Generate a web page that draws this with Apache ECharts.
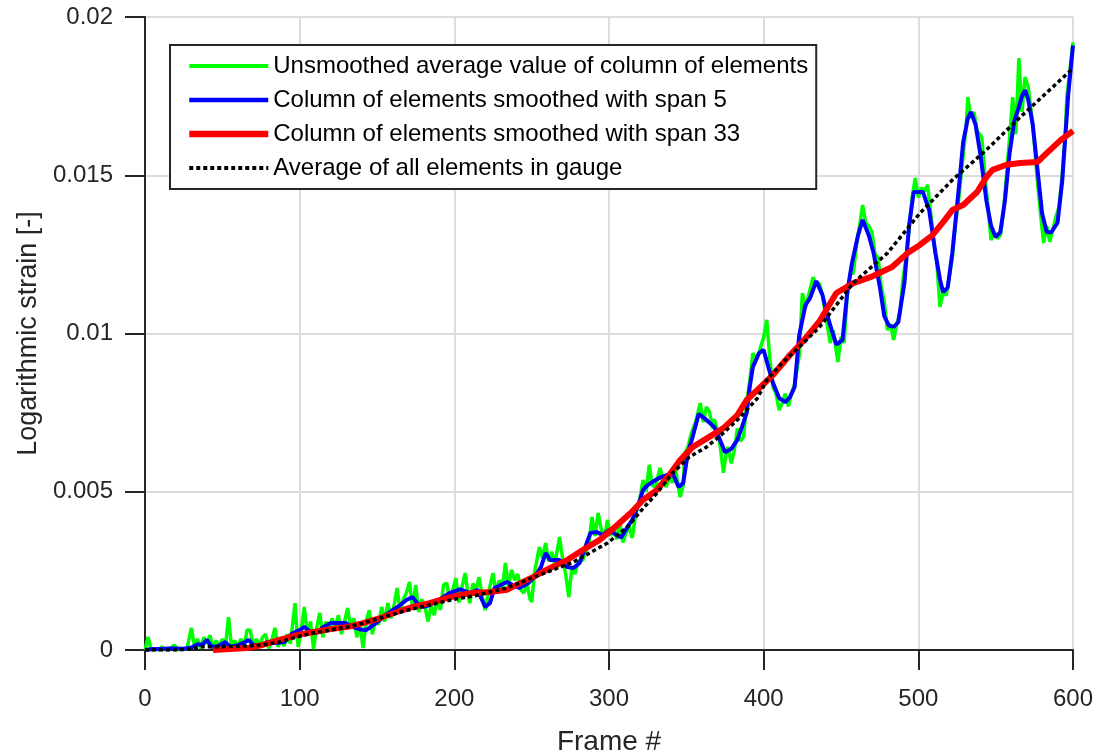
<!DOCTYPE html>
<html>
<head>
<meta charset="utf-8">
<script src="https://cdn.jsdelivr.net/npm/echarts@6/dist/echarts.min.js"></script>
<style>
html,body{margin:0;padding:0;background:#fff;}
#chart{width:1100px;height:755px;}
</style>
</head>
<body>
<div id="chart"></div>
<script>
const seriesNames = [
  'Unsmoothed average value of column of elements',
  'Column of elements smoothed with span 5',
  'Column of elements smoothed with span 33',
  'Average of all elements in gauge'
];
const xTicks = [0, 100, 200, 300, 400, 500, 600];
const yTicks = [0, 0.005, 0.01, 0.015, 0.02];

// [frame, strain]
const unsmoothed = [
[0,0],[2,0.00041],[4,0],[7,0.00002],[9,0],[11,0.0001],[13,0],[16,0.00003],[19,0.00016],[21,0],
[24,0.00004],[27,0.00002],[30,0.0007],[32,0.00012],[34,0.00035],[36,0.00005],[38,0.0004],[40,0.0002],[42,0.00047],[44,0.00006],
[46,0.0003],[48,0.0001],[50,0.00035],[52,0.00012],[54,0.00104],[56,0.00005],[58,0.0003],[60,0.00008],[62,0.00035],[64,0.0001],
[66,0.00063],[68,0.00063],[70,0.0001],[72,0.00035],[74,0.00015],[76,0.0004],[78,0.0005],[80,0.00005],[82,0.0003],[84,0.0007],
[86,0.0001],[88,0.0004],[90,0.00012],[92,0.0005],[94,0.0002],[97,0.00148],[99,0.0001],[101,0.0006],[103,0.00136],[105,0.0005],
[107,0.0009],[109,0.00003],[111,0.0007],[113,0.00117],[115,0.0004],[117,0.0009],[119,0.0006],[121,0.001],[123,0.0007],[125,0.0011],
[127,0.0005],[129,0.0009],[131,0.00133],[133,0.0007],[135,0.001],[137,0.0004],[139,0.0008],[141,0.00006],[143,0.0009],[145,0.00126],
[147,0.0005],[149,0.001],[151,0.0008],[153,0.00136],[155,0.0009],[157,0.00148],[159,0.001],[161,0.0014],[163,0.00196],[165,0.0012],
[167,0.0016],[169,0.0018],[171,0.00215],[173,0.0013],[175,0.00205],[177,0.0012],[179,0.0016],[181,0.00136],[183,0.0009],[185,0.0014],
[187,0.0011],[189,0.0016],[191,0.00126],[193,0.00205],[195,0.00212],[197,0.0016],[199,0.0019],[201,0.00227],[203,0.0015],[205,0.002],
[207,0.00243],[209,0.0017],[210,0.00148],[212,0.0021],[214,0.0019],[216,0.0023],[218,0.0017],[220,0.00126],[222,0.0018],[225,0.00243],
[227,0.0018],[229,0.0022],[231,0.0019],[233,0.00275],[235,0.002],[237,0.00253],[239,0.0022],[241,0.0024],[243,0.0019],[245,0.0018],
[247,0.0021],[249,0.0016],[250,0.00152],[252,0.0025],[255,0.00325],[257,0.0029],[259,0.00338],[261,0.0028],[263,0.0031],[265,0.0027],
[268,0.00357],[270,0.0029],[272,0.0024],[274,0.00167],[276,0.0026],[278,0.0024],[280,0.0028],[283,0.00284],[285,0.0031],[287,0.00338],
[289,0.0042],[291,0.0036],[293,0.00433],[295,0.0038],[296,0.00354],[298,0.0038],[299,0.00411],[301,0.0036],[303,0.0039],[305,0.0035],
[307,0.00401],[309,0.0034],[311,0.0037],[313,0.0039],[315,0.00354],[317,0.0042],[318,0.00442],[320,0.0048],[322,0.00537],[324,0.005],
[326,0.00585],[328,0.0052],[330,0.00515],[333,0.00575],[335,0.0054],[337,0.00515],[339,0.0055],[341,0.00528],[343,0.0057],[346,0.00483],
[348,0.0052],[349,0.00622],[351,0.0064],[353,0.0068],[354,0.00695],[356,0.0072],[359,0.0078],[361,0.0072],[363,0.00768],[365,0.00752],
[367,0.007],[368,0.0073],[370,0.00695],[372,0.0064],[374,0.0056],[376,0.0063],[377,0.00641],[379,0.0059],[381,0.0063],[383,0.007],
[385,0.0066],[387,0.00673],[389,0.0078],[391,0.0085],[393,0.00938],[395,0.0092],[397,0.0094],[400,0.00989],[402,0.01043],[404,0.0092],
[406,0.00831],[408,0.0081],[410,0.00758],[412,0.0078],[414,0.0081],[416,0.0077],[418,0.0081],[420,0.0084],[423,0.0093],[425,0.01128],
[427,0.0108],[429,0.0112],[432,0.01178],[434,0.0115],[436,0.0116],[438,0.0112],[440,0.0106],[443,0.0097],[445,0.0101],[448,0.0091],
[450,0.0099],[452,0.0097],[454,0.0112],[456,0.0119],[458,0.0119],[460,0.0128],[462,0.0134],[464,0.01406],[466,0.0135],[468,0.0134],
[470,0.0132],[472,0.0125],[474,0.0124],[476,0.0115],[478,0.011],[480,0.01011],[482,0.0103],[484,0.0098],[486,0.0103],[488,0.0106],
[490,0.0117],[492,0.0124],[494,0.0133],[496,0.0143],[498,0.01491],[500,0.0143],[502,0.0146],[504,0.0145],[506,0.01469],[508,0.0138],
[510,0.0129],[512,0.0122],[514,0.01084],[516,0.0113],[518,0.0112],[520,0.0118],[522,0.0124],[524,0.0135],[526,0.0142],[529,0.01564],
[531,0.0166],[532,0.01747],[534,0.0168],[536,0.017],[538,0.0164],[541,0.01621],[543,0.015],[545,0.014],[547,0.01295],[549,0.0132],
[551,0.013],[553,0.0131],[555,0.0138],[557,0.015],[559,0.0162],[561,0.01747],[563,0.0163],[565,0.0187],[567,0.017],[569,0.0181],
[571,0.0178],[573,0.017],[575,0.016],[577,0.0148],[579,0.0138],[581,0.01286],[583,0.0134],[585,0.0129],[587,0.0133],[589,0.0137],
[591,0.014],[593,0.015],[595,0.0163],[596,0.01747],[598,0.0183],[600,0.0192]
];

const span5 = [
[0,0],[5,0.00003],[10,0.00003],[15,0.00005],[20,0.00005],[25,0.00004],[30,0.00008],[34,0.00018],[37,0.00016],[40,0.00032],
[43,0.0001],[47,0.00012],[52,0.00025],[55,0.0001],[60,0.00015],[65,0.00026],[67,0.00032],[70,0.00016],[75,0.00016],[79,0.00025],
[85,0.00022],[90,0.00025],[95,0.00052],[100,0.00063],[103,0.00073],[107,0.00057],[111,0.00054],[115,0.00072],[120,0.00085],[125,0.00085],
[130,0.00085],[134,0.00073],[139,0.00065],[143,0.00063],[148,0.0008],[154,0.00104],[160,0.00126],[165,0.00142],[169,0.00158],[173,0.00167],
[176,0.00148],[180,0.00136],[184,0.00142],[190,0.00158],[197,0.0018],[204,0.00192],[210,0.0018],[215,0.0019],[220,0.00136],[223,0.00148],
[226,0.00196],[234,0.00215],[242,0.00196],[248,0.00212],[252,0.00231],[256,0.00262],[259,0.00306],[262,0.00284],[268,0.00284],[273,0.00262],
[277,0.00259],[281,0.00275],[284,0.00316],[288,0.0037],[292,0.00373],[296,0.00363],[300,0.00379],[305,0.00363],[308,0.00356],[312,0.00389],
[315,0.00411],[319,0.00458],[322,0.00506],[325,0.00521],[330,0.00537],[334,0.00547],[338,0.00553],[341,0.0056],[345,0.00515],[348,0.00528],
[351,0.00624],[354,0.00672],[358,0.00746],[363,0.00727],[368,0.00705],[371,0.00673],[375,0.00625],[379,0.00635],[383,0.00664],[386,0.00705],
[389,0.00749],[391,0.00831],[393,0.00894],[397,0.00938],[400,0.00948],[403,0.00894],[406,0.00844],[410,0.00796],[414,0.00783],[417,0.00799],
[420,0.00831],[423,0.00995],[427,0.0109],[430,0.01112],[434,0.01166],[438,0.01122],[441,0.0106],[444,0.0101],[447,0.00965],[451,0.0098],
[454,0.01128],[457,0.0122],[461,0.0131],[464,0.01359],[468,0.0131],[471,0.01256],[475,0.0115],[478,0.01055],[481,0.01025],[484,0.01021],
[487,0.01035],[491,0.0116],[494,0.0134],[497,0.01447],[500,0.01447],[503,0.01447],[507,0.0139],[511,0.01256],[514,0.0117],[516,0.01131],
[519,0.01145],[522,0.01256],[526,0.0145],[529,0.01605],[532,0.0168],[534,0.017],[537,0.0166],[540,0.0157],[544,0.0142],[547,0.0134],
[550,0.01305],[553,0.0132],[556,0.0142],[559,0.0157],[562,0.0167],[564,0.017],[567,0.0175],[569,0.01769],[571,0.0174],[574,0.0166],
[577,0.0152],[580,0.0138],[583,0.01321],[586,0.0132],[590,0.0135],[593,0.0148],[595,0.0162],[597,0.0176],[599,0.0186],[600,0.0191]
];

const span33 = [
[44,0],[55,0.00003],[66,0.00006],[76,0.00016],[87,0.00032],[98,0.00047],[109,0.00057],[120,0.00066],[131,0.00073],[141,0.00085],
[152,0.00101],[163,0.0012],[173,0.00136],[184,0.00148],[195,0.00164],[204,0.00174],[212,0.0018],[223,0.00183],[234,0.0019],[240,0.00205],
[251,0.00231],[262,0.00259],[273,0.00284],[283,0.00316],[294,0.00348],[303,0.00385],[314,0.00433],[322,0.00474],[331,0.00506],[339,0.00553],
[346,0.006],[354,0.00641],[363,0.00668],[374,0.00701],[383,0.00742],[389,0.0079],[398,0.00831],[406,0.00869],[417,0.00932],[425,0.00973],
[436,0.01038],[447,0.01128],[458,0.01159],[469,0.01178],[483,0.0121],[493,0.01254],[501,0.0128],[509,0.0131],[516,0.01352],[522,0.0139],
[529,0.01406],[538,0.01447],[544,0.01494],[548,0.01517],[557,0.01533],[566,0.01539],[577,0.01542],[583,0.0157],[592,0.01611],[600,0.0164]
];

const gaugeAverage = [
[0,0],[10,0],[20,0],[29,0.00003],[36,0.0001],[47,0.0001],[60,0.00012],[68,0.00013],[76,0.00016],[87,0.00025],
[98,0.00041],[109,0.00054],[120,0.00063],[131,0.00073],[141,0.00085],[152,0.00101],[163,0.00117],[173,0.0013],[184,0.00142],[195,0.00155],
[204,0.00164],[212,0.0017],[234,0.00196],[255,0.00237],[277,0.00278],[299,0.00338],[312,0.00389],[320,0.00436],[331,0.00496],[341,0.00559],
[352,0.0061],[363,0.00641],[374,0.00686],[385,0.00736],[396,0.00796],[402,0.00853],[412,0.00907],[423,0.00957],[436,0.0102],[458,0.0116],
[480,0.01254],[501,0.0138],[522,0.01485],[544,0.0158],[566,0.01684],[587,0.01779],[600,0.01838]
];

const txt = '#262626';
const fontFam = '"Liberation Sans", Arial, Helvetica, sans-serif';
const colors = ['#00ff00', '#0000ff', '#ff0000', '#000000'];
const widths = [3.5, 4, 6, 3.5];
const chart = echarts.init(document.getElementById('chart'), null, {renderer: 'canvas'});
chart.setOption({
  animation: false,
  backgroundColor: '#ffffff',
  textStyle: {fontFamily: fontFam, color: txt},
  grid: {left: 145, top: 17, right: 27, bottom: 105, containLabel: false, outerBoundsMode: 'none'},
  legend: {
    orient: 'vertical',
    left: 170, top: 45,
    backgroundColor: '#ffffff',
    borderColor: txt, borderWidth: 2,
    padding: [8, 8, 8, 16],
    itemWidth: 79, itemHeight: 6, itemGap: 8,
    itemStyle: {color: 'rgba(0,0,0,0)', borderWidth: 0, opacity: 0},
    textStyle: {fontSize: 24, color: '#000', fontFamily: fontFam, lineHeight: 26},
    data: seriesNames.map(function (n, i) {
      return {name: n, lineStyle: {width: widths[i] + 0.5, color: colors[i], type: i === 3 ? [4, 3] : 'solid'}};
    })
  },
  xAxis: {
    type: 'value', min: xTicks[0], max: xTicks[xTicks.length - 1], interval: 100,
    name: 'Frame #', nameLocation: 'middle', nameGap: 78,
    nameTextStyle: {fontSize: 28, color: txt, fontFamily: fontFam},
    axisLine: {show: true, lineStyle: {color: txt, width: 2}},
    axisTick: {show: true, inside: false, length: 20, lineStyle: {color: txt, width: 2}},
    axisLabel: {fontSize: 24, color: txt, margin: 37, fontFamily: fontFam},
    splitLine: {show: true, lineStyle: {color: '#dcdcdc', width: 2}}
  },
  yAxis: {
    type: 'value', min: yTicks[0], max: yTicks[yTicks.length - 1], interval: 0.005,
    name: 'Logarithmic strain [-]', nameLocation: 'middle', nameGap: 103, nameRotate: 90,
    nameTextStyle: {fontSize: 27, color: txt, fontFamily: fontFam},
    axisLine: {show: true, lineStyle: {color: txt, width: 2}},
    axisTick: {show: true, inside: false, length: 20, lineStyle: {color: txt, width: 2}},
    axisLabel: {fontSize: 24, color: txt, margin: 32, fontFamily: fontFam,
      formatter: function (v) { return String(parseFloat(v.toFixed(4))); }},
    splitLine: {show: true, lineStyle: {color: '#dcdcdc', width: 2}}
  },
  series: seriesNames.map(function (n, i) {
    const d = [unsmoothed, span5, span33, gaugeAverage][i];
    return {
      name: n, type: 'line', data: d, symbol: 'none', z: 2 + i,
      lineStyle: {color: colors[i], width: widths[i], type: i === 3 ? [4, 3] : 'solid'},
      itemStyle: {color: colors[i]}
    };
  })
});
</script>
</body>
</html>
